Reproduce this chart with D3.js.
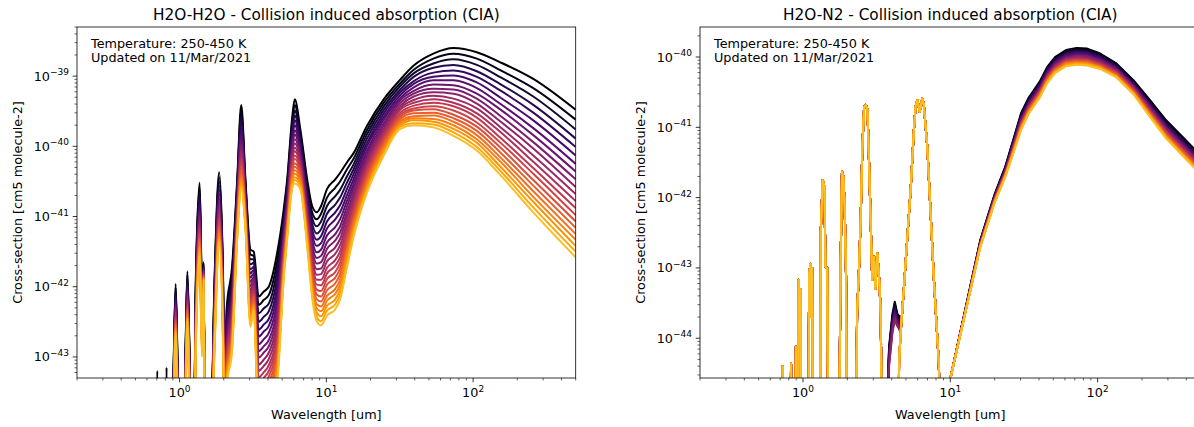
<!DOCTYPE html>
<html>
<head>
<meta charset="utf-8">
<script src="https://cdn.jsdelivr.net/npm/d3@7"></script>
<style>
  body { margin: 0; background: #fff; }
  text { font-family: "DejaVu Sans", sans-serif; fill: #000; }
</style>
</head>
<body>
<div id="chart"></div>
<script>
// temperatures of the curves (K), one line each
const temperatures = [250, 260, 270, 280, 290, 300, 310, 320, 330, 340, 350, 360, 370, 380, 390, 400, 410, 420, 430, 440, 450];

// axis limits / ticks (log10 exponents)
const xLimits = [0.2, 500];
const xMajorExp = [0, 1, 2];
const h2oYLimits = [-43.30, -38.30];
const h2oYMajorExp = [-43, -42, -41, -40, -39];
const n2YLimits = [-44.566, -39.573];
const n2YMajorExp = [-44, -43, -42, -41, -40];

// H2O-H2O : wavelength grid (um) and log10 cross-section, one row per wavelength,
// each row holds the 21 temperatures (a single number = same for all)
const h2oWavelengths = [0.69, 0.705, 0.72, 0.80, 0.815, 0.83, 0.88, 0.915, 0.94, 0.965, 1.00, 1.05, 1.10, 1.13, 1.165, 1.21, 1.24, 1.29, 1.37, 1.42, 1.46, 1.49, 1.60, 1.73, 1.86, 1.98, 2.04, 2.09, 2.28, 2.47, 2.63, 2.81, 3.04, 3.20, 3.46, 3.74, 4.05, 4.62, 5.12, 5.41, 5.84, 6.09, 6.65, 7.4, 8.0, 8.6, 9.2, 10.1, 11.5, 12.4, 13.8, 15.3, 18.9, 24.6, 31.9, 39.4, 53.6, 73.5, 106, 152, 257, 500];
const h2oH2O = [
  -45,
  [-43.2,-43.6,-45,-45,-45,-45,-45,-45,-45,-45,-45,-45,-45,-45,-45,-45,-45,-45,-45,-45,-45],
  -45,
  -45,
  [-43.15,-43.5,-45,-45,-45,-45,-45,-45,-45,-45,-45,-45,-45,-45,-45,-45,-45,-45,-45,-45,-45],
  -45,
  -45,
  [-42.9,-42.95,-42.99,-43.04,-43.08,-43.12,-43.16,-43.19,-43.23,-43.27,-43.3,-43.33,-43.37,-43.4,-43.43,-43.46,-43.49,-43.52,-43.55,-43.57,-43.6],
  [-41.96,-42.01,-42.05,-42.1,-42.14,-42.18,-42.22,-42.25,-42.29,-42.33,-42.36,-42.39,-42.43,-42.46,-42.49,-42.52,-42.55,-42.58,-42.61,-42.63,-42.66],
  [-42.9,-42.95,-42.99,-43.04,-43.08,-43.12,-43.16,-43.19,-43.23,-43.27,-43.3,-43.33,-43.37,-43.4,-43.43,-43.46,-43.49,-43.52,-43.55,-43.57,-43.6],
  -45,
  -45,
  [-42.8,-42.85,-42.89,-42.94,-42.98,-43.02,-43.06,-43.09,-43.13,-43.17,-43.2,-43.23,-43.27,-43.3,-43.33,-43.36,-43.39,-43.42,-43.45,-43.47,-43.5],
  [-41.78,-41.83,-41.87,-41.92,-41.96,-42.0,-42.04,-42.07,-42.11,-42.15,-42.18,-42.21,-42.25,-42.28,-42.31,-42.34,-42.37,-42.4,-42.43,-42.45,-42.48],
  [-42.8,-42.85,-42.89,-42.94,-42.98,-43.02,-43.06,-43.09,-43.13,-43.17,-43.2,-43.23,-43.27,-43.3,-43.33,-43.36,-43.39,-43.42,-43.45,-43.47,-43.5],
  -45,
  -45,
  [-41.9,-41.97,-42.03,-42.09,-42.15,-42.21,-42.27,-42.32,-42.37,-42.42,-42.47,-42.52,-42.57,-42.61,-42.66,-42.7,-42.74,-42.78,-42.82,-42.86,-42.9],
  [-40.52,-40.59,-40.65,-40.71,-40.77,-40.83,-40.89,-40.94,-40.99,-41.04,-41.09,-41.14,-41.19,-41.23,-41.28,-41.32,-41.36,-41.4,-41.44,-41.48,-41.52],
  [-41.9,-41.97,-42.04,-42.11,-42.18,-42.24,-42.3,-42.36,-42.42,-42.48,-42.53,-42.58,-42.63,-42.68,-42.73,-42.78,-42.83,-42.87,-42.92,-42.96,-43.0],
  [-41.65,-41.67,-41.68,-41.7,-41.71,-41.73,-41.74,-41.76,-41.77,-41.78,-41.79,-41.81,-41.82,-41.83,-41.84,-41.85,-41.86,-41.87,-41.88,-41.89,-41.9],
  -45,
  -45,
  [-41.9,-41.97,-42.03,-42.09,-42.15,-42.21,-42.27,-42.32,-42.37,-42.42,-42.47,-42.52,-42.57,-42.61,-42.66,-42.7,-42.74,-42.78,-42.82,-42.86,-42.9],
  [-40.37,-40.44,-40.5,-40.56,-40.62,-40.68,-40.74,-40.79,-40.84,-40.89,-40.94,-40.99,-41.04,-41.08,-41.13,-41.17,-41.21,-41.25,-41.29,-41.33,-41.37],
  [-41.9,-41.97,-42.03,-42.09,-42.15,-42.21,-42.27,-42.32,-42.37,-42.42,-42.47,-42.52,-42.57,-42.61,-42.66,-42.7,-42.74,-42.78,-42.82,-42.86,-42.9],
  -45,
  [-42.33,-42.4,-42.47,-42.54,-42.61,-42.67,-42.73,-42.79,-42.85,-42.91,-42.96,-43.01,-43.06,-43.11,-43.16,-43.21,-43.26,-43.3,-43.35,-43.39,-43.43],
  [-41.71,-41.79,-41.87,-41.94,-42.01,-42.08,-42.15,-42.21,-42.28,-42.34,-42.4,-42.45,-42.51,-42.56,-42.62,-42.67,-42.72,-42.77,-42.82,-42.86,-42.91],
  [-40.47,-40.53,-40.58,-40.63,-40.69,-40.73,-40.78,-40.83,-40.87,-40.91,-40.96,-41.0,-41.04,-41.08,-41.11,-41.15,-41.19,-41.22,-41.25,-41.29,-41.32],
  [-39.41,-39.49,-39.57,-39.64,-39.71,-39.78,-39.85,-39.91,-39.98,-40.04,-40.1,-40.15,-40.21,-40.26,-40.32,-40.37,-40.42,-40.47,-40.52,-40.56,-40.61],
  [-40.47,-40.52,-40.56,-40.61,-40.65,-40.69,-40.73,-40.76,-40.8,-40.84,-40.87,-40.9,-40.94,-40.97,-41.0,-41.03,-41.06,-41.09,-41.12,-41.14,-41.17],
  [-41.47,-41.54,-41.61,-41.68,-41.75,-41.81,-41.87,-41.93,-41.99,-42.05,-42.1,-42.15,-42.2,-42.25,-42.3,-42.35,-42.4,-42.44,-42.49,-42.53,-42.57],
  [-41.5,-41.56,-41.61,-41.66,-41.72,-41.76,-41.81,-41.86,-41.9,-41.94,-41.99,-42.03,-42.07,-42.11,-42.14,-42.18,-42.22,-42.25,-42.28,-42.32,-42.35],
  [-42.14,-42.26,-42.38,-42.5,-42.61,-42.71,-42.82,-42.92,-43.01,-43.11,-43.2,-43.29,-43.37,-43.46,-43.54,-43.62,-43.7,-43.77,-43.85,-43.92,-43.99],
  [-42.07,-42.19,-42.31,-42.43,-42.54,-42.64,-42.75,-42.85,-42.94,-43.04,-43.13,-43.22,-43.3,-43.39,-43.47,-43.55,-43.63,-43.7,-43.78,-43.85,-43.92],
  [-42.0,-42.12,-42.24,-42.35,-42.46,-42.56,-42.66,-42.76,-42.85,-42.94,-43.03,-43.12,-43.2,-43.28,-43.36,-43.44,-43.52,-43.59,-43.66,-43.73,-43.8],
  [-41.52,-41.64,-41.76,-41.88,-41.99,-42.09,-42.2,-42.3,-42.39,-42.49,-42.58,-42.67,-42.75,-42.84,-42.92,-43.0,-43.08,-43.15,-43.23,-43.3,-43.37],
  [-40.9,-40.97,-41.03,-41.09,-41.15,-41.21,-41.27,-41.32,-41.37,-41.42,-41.47,-41.52,-41.57,-41.61,-41.66,-41.7,-41.74,-41.78,-41.82,-41.86,-41.9],
  [-40.47,-40.53,-40.58,-40.63,-40.69,-40.73,-40.78,-40.83,-40.87,-40.91,-40.96,-41.0,-41.04,-41.08,-41.11,-41.15,-41.19,-41.22,-41.25,-41.29,-41.32],
  [-39.61,-39.68,-39.74,-39.8,-39.86,-39.92,-39.98,-40.03,-40.08,-40.13,-40.18,-40.23,-40.28,-40.32,-40.37,-40.41,-40.45,-40.49,-40.53,-40.57,-40.61],
  [-39.33,-39.41,-39.49,-39.56,-39.63,-39.7,-39.77,-39.83,-39.9,-39.96,-40.02,-40.07,-40.13,-40.18,-40.24,-40.29,-40.34,-40.39,-40.44,-40.48,-40.53],
  [-39.76,-39.82,-39.87,-39.92,-39.98,-40.02,-40.07,-40.12,-40.16,-40.2,-40.25,-40.29,-40.33,-40.37,-40.4,-40.44,-40.48,-40.51,-40.54,-40.58,-40.61],
  [-40.47,-40.53,-40.59,-40.65,-40.71,-40.76,-40.82,-40.87,-40.92,-40.97,-41.01,-41.06,-41.1,-41.15,-41.19,-41.23,-41.27,-41.31,-41.35,-41.38,-41.42],
  [-40.85,-40.94,-41.02,-41.1,-41.18,-41.25,-41.33,-41.4,-41.46,-41.53,-41.59,-41.66,-41.72,-41.78,-41.83,-41.89,-41.94,-42.0,-42.05,-42.1,-42.15],
  [-40.94,-41.04,-41.14,-41.24,-41.33,-41.42,-41.51,-41.59,-41.67,-41.75,-41.83,-41.9,-41.97,-42.04,-42.11,-42.18,-42.25,-42.31,-42.37,-42.43,-42.49],
  [-40.85,-40.96,-41.07,-41.18,-41.28,-41.38,-41.47,-41.56,-41.65,-41.74,-41.82,-41.9,-41.98,-42.06,-42.14,-42.21,-42.28,-42.35,-42.42,-42.49,-42.55],
  [-40.61,-40.73,-40.85,-40.96,-41.07,-41.17,-41.27,-41.37,-41.46,-41.55,-41.64,-41.73,-41.81,-41.89,-41.97,-42.05,-42.13,-42.2,-42.27,-42.34,-42.41],
  [-40.47,-40.59,-40.71,-40.83,-40.94,-41.04,-41.15,-41.25,-41.34,-41.44,-41.53,-41.62,-41.7,-41.79,-41.87,-41.95,-42.03,-42.1,-42.18,-42.25,-42.32],
  [-40.38,-40.5,-40.62,-40.73,-40.84,-40.94,-41.04,-41.14,-41.23,-41.32,-41.41,-41.5,-41.58,-41.66,-41.74,-41.82,-41.9,-41.97,-42.04,-42.11,-42.18],
  [-40.23,-40.33,-40.43,-40.52,-40.61,-40.7,-40.78,-40.86,-40.94,-41.01,-41.09,-41.16,-41.23,-41.3,-41.37,-41.43,-41.49,-41.55,-41.61,-41.67,-41.73],
  [-40.1,-40.18,-40.26,-40.33,-40.4,-40.47,-40.54,-40.6,-40.67,-40.73,-40.79,-40.84,-40.9,-40.95,-41.01,-41.06,-41.11,-41.16,-41.21,-41.25,-41.3],
  [-39.71,-39.77,-39.83,-39.89,-39.95,-40.0,-40.06,-40.11,-40.16,-40.21,-40.25,-40.3,-40.34,-40.39,-40.43,-40.47,-40.51,-40.55,-40.59,-40.62,-40.66],
  [-39.33,-39.38,-39.43,-39.48,-39.53,-39.58,-39.62,-39.67,-39.71,-39.75,-39.79,-39.83,-39.86,-39.9,-39.94,-39.97,-40.0,-40.04,-40.07,-40.1,-40.13],
  [-39.05,-39.1,-39.14,-39.19,-39.23,-39.27,-39.31,-39.34,-39.38,-39.42,-39.45,-39.48,-39.52,-39.55,-39.58,-39.61,-39.64,-39.67,-39.7,-39.72,-39.75],
  [-38.85,-38.91,-38.96,-39.01,-39.07,-39.11,-39.16,-39.21,-39.25,-39.29,-39.34,-39.38,-39.42,-39.46,-39.49,-39.53,-39.57,-39.6,-39.63,-39.67,-39.7],
  [-38.68,-38.75,-38.82,-38.88,-38.95,-39.01,-39.06,-39.12,-39.18,-39.23,-39.28,-39.33,-39.38,-39.43,-39.47,-39.52,-39.56,-39.61,-39.65,-39.69,-39.73],
  [-38.6,-38.68,-38.76,-38.84,-38.92,-38.99,-39.06,-39.13,-39.19,-39.25,-39.32,-39.38,-39.43,-39.49,-39.55,-39.6,-39.65,-39.7,-39.75,-39.8,-39.85],
  [-38.66,-38.75,-38.84,-38.93,-39.01,-39.09,-39.17,-39.25,-39.32,-39.39,-39.46,-39.53,-39.59,-39.66,-39.72,-39.78,-39.84,-39.9,-39.95,-40.01,-40.06],
  [-38.8,-38.91,-39.01,-39.11,-39.2,-39.3,-39.39,-39.47,-39.56,-39.64,-39.72,-39.79,-39.87,-39.94,-40.01,-40.08,-40.15,-40.21,-40.28,-40.34,-40.4],
  [-39.04,-39.17,-39.29,-39.41,-39.52,-39.63,-39.74,-39.84,-39.94,-40.03,-40.13,-40.22,-40.31,-40.39,-40.48,-40.56,-40.64,-40.72,-40.79,-40.87,-40.94],
  [-39.48,-39.62,-39.76,-39.89,-40.01,-40.13,-40.25,-40.36,-40.47,-40.58,-40.68,-40.78,-40.88,-40.98,-41.07,-41.16,-41.25,-41.33,-41.42,-41.5,-41.58]
];

// H2O-N2 : same layout
const n2Wavelengths = [0.70, 0.722, 0.728, 0.735, 0.82, 0.83, 0.84, 0.885, 0.895, 0.905, 0.925, 0.935, 0.95, 0.962, 0.975, 1.09, 1.10, 1.125, 1.14, 1.155, 1.17, 1.31, 1.32, 1.36, 1.40, 1.42, 1.46, 1.49, 1.75, 1.80, 1.84, 1.88, 1.92, 1.96, 1.99, 2.28, 2.33, 2.41, 2.47, 2.53, 2.60, 2.67, 2.74, 2.81, 2.88, 2.95, 3.04, 3.10, 3.20, 3.30, 3.37, 3.46, 3.59, 3.84, 4.05, 4.20, 4.37, 4.50, 4.60, 4.85, 5.11, 5.38, 5.66, 5.81, 5.98, 6.20, 6.45, 6.60, 6.98, 7.35, 7.74, 8.36, 8.70, 9.80, 16, 20, 23.6, 27, 30.2, 34, 40.4, 45.5, 51.4, 61, 72, 85, 104, 134, 175, 226, 292, 400, 500];
const h2oN2 = [
  -46, -46, -44.4, -46,
  -46, -44.36, -46,
  -46, -44.12, -46,
  -46, -43.17, -43.9, -43.3, -46,
  -46, -43.1, -42.94, -43.7, -43.0, -46,
  -46, -42.5, -41.75, -41.84, -42.98, -43.0, -46,
  -46, -42.98, -41.63, -41.7, -42.13, -43.1, -46,
  -46, -43.65, -42.93, -42.22, -41.28, -40.71, -40.68, -40.75, -41.51, -42.32, -43.17,
  -42.84, -43.3, -42.79, -43.2, -43.65, -46, -46,
  [-44.12,-44.15,-44.18,-44.21,-44.24,-44.27,-44.3,-44.33,-44.36,-44.4,-46,-46,-46,-46,-46,-46,-46,-46,-46,-46,-46],
  [-43.65,-43.68,-43.71,-43.74,-43.77,-43.8,-43.83,-43.86,-43.89,-43.92,-46,-46,-46,-46,-46,-46,-46,-46,-46,-46,-46],
  [-43.48,-43.51,-43.54,-43.57,-43.6,-43.63,-43.66,-43.69,-43.72,-43.75,-46,-46,-46,-46,-46,-46,-46,-46,-46,-46,-46],
  [-43.65,-43.67,-43.69,-43.71,-43.73,-43.75,-43.77,-43.79,-43.81,-43.83,-46,-46,-46,-46,-46,-46,-46,-46,-46,-46,-46],
  [-43.69,-43.71,-43.73,-43.75,-43.77,-43.79,-43.81,-43.83,-43.85,-43.87,-44.3,-44.3,-44.3,-44.3,-44.3,-44.3,-44.3,-44.3,-44.3,-44.3,-44.3],
  -43.93, -43.27, -42.56, -41.89, -41.04, -40.71, -40.61, -40.78, -40.59, -40.66, -41.28, -42.22, -43.17, -44.36, -46,
  -44.66,
  [-42.6,-42.61,-42.61,-42.62,-42.63,-42.63,-42.64,-42.64,-42.65,-42.65,-42.66,-42.66,-42.67,-42.67,-42.68,-42.68,-42.68,-42.69,-42.69,-42.7,-42.7],
  [-41.95,-41.96,-41.97,-41.97,-41.98,-41.99,-41.99,-42.0,-42.01,-42.01,-42.02,-42.02,-42.03,-42.04,-42.04,-42.05,-42.05,-42.06,-42.06,-42.07,-42.07],
  [-41.56,-41.57,-41.58,-41.59,-41.6,-41.61,-41.61,-41.62,-41.63,-41.64,-41.65,-41.65,-41.66,-41.67,-41.67,-41.68,-41.69,-41.69,-41.7,-41.7,-41.71],
  [-41.15,-41.16,-41.18,-41.19,-41.2,-41.21,-41.22,-41.23,-41.24,-41.25,-41.26,-41.27,-41.28,-41.29,-41.3,-41.31,-41.32,-41.33,-41.33,-41.34,-41.35],
  [-40.8,-40.82,-40.83,-40.85,-40.86,-40.87,-40.89,-40.9,-40.91,-40.93,-40.94,-40.95,-40.96,-40.97,-40.98,-40.99,-41.0,-41.01,-41.02,-41.03,-41.04],
  [-40.58,-40.6,-40.61,-40.62,-40.64,-40.65,-40.66,-40.68,-40.69,-40.7,-40.71,-40.72,-40.73,-40.74,-40.75,-40.76,-40.77,-40.78,-40.79,-40.8,-40.81],
  [-40.35,-40.37,-40.38,-40.39,-40.41,-40.42,-40.43,-40.45,-40.46,-40.47,-40.48,-40.49,-40.5,-40.51,-40.52,-40.53,-40.54,-40.55,-40.56,-40.57,-40.58],
  [-40.14,-40.16,-40.17,-40.18,-40.2,-40.21,-40.22,-40.24,-40.25,-40.26,-40.27,-40.28,-40.29,-40.3,-40.31,-40.32,-40.33,-40.34,-40.35,-40.36,-40.37],
  [-40.0,-40.02,-40.03,-40.04,-40.06,-40.07,-40.08,-40.1,-40.11,-40.12,-40.13,-40.14,-40.15,-40.16,-40.17,-40.18,-40.19,-40.2,-40.21,-40.22,-40.23],
  [-39.9,-39.92,-39.93,-39.94,-39.96,-39.97,-39.98,-40.0,-40.01,-40.02,-40.03,-40.04,-40.05,-40.06,-40.07,-40.08,-40.09,-40.1,-40.11,-40.12,-40.13],
  [-39.87,-39.89,-39.9,-39.92,-39.93,-39.94,-39.96,-39.97,-39.98,-40.0,-40.01,-40.02,-40.03,-40.04,-40.05,-40.06,-40.07,-40.08,-40.09,-40.1,-40.11],
  [-39.88,-39.9,-39.91,-39.93,-39.94,-39.95,-39.97,-39.98,-39.99,-40.01,-40.02,-40.03,-40.04,-40.05,-40.06,-40.07,-40.08,-40.09,-40.1,-40.11,-40.12],
  [-39.95,-39.96,-39.98,-39.99,-40.01,-40.02,-40.03,-40.04,-40.05,-40.07,-40.08,-40.09,-40.1,-40.11,-40.12,-40.13,-40.14,-40.14,-40.15,-40.16,-40.17],
  [-40.09,-40.1,-40.12,-40.13,-40.14,-40.15,-40.16,-40.17,-40.18,-40.19,-40.2,-40.21,-40.22,-40.23,-40.24,-40.25,-40.26,-40.27,-40.27,-40.28,-40.29],
  [-40.33,-40.34,-40.36,-40.37,-40.38,-40.39,-40.4,-40.41,-40.42,-40.43,-40.44,-40.45,-40.46,-40.47,-40.48,-40.49,-40.5,-40.51,-40.51,-40.52,-40.53],
  [-40.61,-40.63,-40.64,-40.66,-40.67,-40.68,-40.7,-40.71,-40.72,-40.74,-40.75,-40.76,-40.77,-40.78,-40.79,-40.8,-40.81,-40.82,-40.83,-40.84,-40.85],
  [-40.9,-40.92,-40.93,-40.95,-40.97,-40.98,-41.0,-41.01,-41.02,-41.04,-41.05,-41.06,-41.07,-41.09,-41.1,-41.11,-41.12,-41.13,-41.14,-41.15,-41.16],
  [-41.19,-41.21,-41.23,-41.24,-41.26,-41.27,-41.29,-41.3,-41.32,-41.33,-41.34,-41.36,-41.37,-41.38,-41.39,-41.41,-41.42,-41.43,-41.44,-41.45,-41.46],
  [-41.4,-41.42,-41.44,-41.45,-41.47,-41.48,-41.5,-41.51,-41.53,-41.54,-41.55,-41.57,-41.58,-41.59,-41.6,-41.62,-41.63,-41.64,-41.65,-41.66,-41.67]
];

const W = 1194, H = 427;
const svg = d3.select("#chart").append("svg").attr("width", W).attr("height", H);

function drawPanel(cfg) {
    const { id, left, right, top, bottom, yLim, yMajor, wavelengths, rows, title, curve } = cfg;

    const x = d3.scaleLog().domain(xLimits).range([left, right]);
    const y = d3.scaleLog().domain([10 ** yLim[0], 10 ** yLim[1]]).range([bottom, top]);

    // one series per temperature, picked out of the rows
    const series = temperatures.map((t, k) => wavelengths.map((w, i) => ({
        w: w,
        v: Array.isArray(rows[i]) ? rows[i][k] : rows[i]
    })));

    svg.append("clipPath").attr("id", "clip-" + id)
        .append("rect").attr("x", left).attr("y", top)
        .attr("width", right - left).attr("height", bottom - top);

    const line = d3.line()
        .x(d => x(d.w))
        .y(d => y(10 ** d.v))
        .curve(curve);

    const color = k => d3.interpolateInferno(0.85 * k / (temperatures.length - 1));

    svg.append("g").attr("clip-path", `url(#clip-${id})`)
        .selectAll("path")
        .data(series)
        .enter()
        .append("path")
        .attr("d", line)
        .attr("fill", "none")
        .attr("stroke", (d, k) => color(k))
        .attr("stroke-width", 2)
        .attr("stroke-linejoin", "round");

    // x ticks
    const xMajor = xMajorExp.map(e => 10 ** e);
    const xMinor = [];
    [-1, 0, 1, 2].forEach(n => d3.range(2, 10).forEach(m => {
        const v = m * 10 ** n;
        if (v >= xLimits[0] && v <= xLimits[1]) xMinor.push(v);
    }));
    const gx = svg.append("g").attr("transform", `translate(0,${bottom})`);
    gx.selectAll(".maj").data(xMajor).enter().append("line")
        .attr("x1", d => x(d)).attr("x2", d => x(d)).attr("y1", 0).attr("y2", 4.3)
        .attr("stroke", "#000").attr("stroke-width", 0.8);
    gx.selectAll(".min").data(xMinor).enter().append("line")
        .attr("x1", d => x(d)).attr("x2", d => x(d)).attr("y1", 0).attr("y2", 2.5)
        .attr("stroke", "#000").attr("stroke-width", 0.6);
    xMajorExp.forEach(e => {
        const t = svg.append("text").attr("x", x(10 ** e)).attr("y", bottom + 19)
            .attr("text-anchor", "middle").attr("font-size", 12.8);
        t.append("tspan").text("10");
        t.append("tspan").attr("dy", -5.5).attr("font-size", 9).text(e);
    });

    // y ticks
    const yMinor = [];
    d3.range(Math.floor(yLim[0]), Math.ceil(yLim[1]) + 1).forEach(n => d3.range(2, 10).forEach(m => {
        const v = m * 10 ** n;
        if (v >= 10 ** yLim[0] && v <= 10 ** yLim[1]) yMinor.push(v);
    }));
    const gy = svg.append("g").attr("transform", `translate(${left},0)`);
    gy.selectAll(".maj").data(yMajor).enter().append("line")
        .attr("y1", d => y(10 ** d)).attr("y2", d => y(10 ** d)).attr("x1", 0).attr("x2", -4.3)
        .attr("stroke", "#000").attr("stroke-width", 0.8);
    gy.selectAll(".min").data(yMinor).enter().append("line")
        .attr("y1", d => y(d)).attr("y2", d => y(d)).attr("x1", 0).attr("x2", -2.5)
        .attr("stroke", "#000").attr("stroke-width", 0.6);
    yMajor.forEach(e => {
        const t = svg.append("text").attr("x", left - 8).attr("y", y(10 ** e) + 4.5)
            .attr("text-anchor", "end").attr("font-size", 12.8);
        t.append("tspan").text("10");
        t.append("tspan").attr("dy", -5.5).attr("font-size", 9).text("\u2212" + Math.abs(e));
    });

    // frame
    svg.append("rect").attr("x", left).attr("y", top)
        .attr("width", right - left).attr("height", bottom - top)
        .attr("fill", "none").attr("stroke", "#000").attr("stroke-width", 0.8);

    // texts
    svg.append("text").attr("x", (left + right) / 2).attr("y", top - 7)
        .attr("text-anchor", "middle").attr("font-size", 15.3).text(title);
    svg.append("text").attr("x", (left + right) / 2).attr("y", bottom + 41)
        .attr("text-anchor", "middle").attr("font-size", 12.8).text("Wavelength [um]");
    svg.append("text")
        .attr("transform", `translate(${left - 55},${(top + bottom) / 2}) rotate(-90)`)
        .attr("text-anchor", "middle").attr("font-size", 12.8)
        .text("Cross-section [cm5 molecule-2]");
    svg.append("text").attr("x", left + 14).attr("y", top + 20.5)
        .attr("font-size", 12.8).text("Temperature: 250-450 K");
    svg.append("text").attr("x", left + 14).attr("y", top + 35)
        .attr("font-size", 12.8).text("Updated on 11/Mar/2021");
}

drawPanel({
    id: "h2o", left: 77, right: 575.7, top: 27, bottom: 378,
    yLim: h2oYLimits, yMajor: h2oYMajorExp,
    wavelengths: h2oWavelengths, rows: h2oH2O,
    title: "H2O-H2O - Collision induced absorption (CIA)",
    curve: d3.curveMonotoneX
});

drawPanel({
    id: "n2", left: 700, right: 1200.6, top: 27, bottom: 378,
    yLim: n2YLimits, yMajor: n2YMajorExp,
    wavelengths: n2Wavelengths, rows: h2oN2,
    title: "H2O-N2 - Collision induced absorption (CIA)",
    curve: d3.curveLinear
});
</script>
</body>
</html>
